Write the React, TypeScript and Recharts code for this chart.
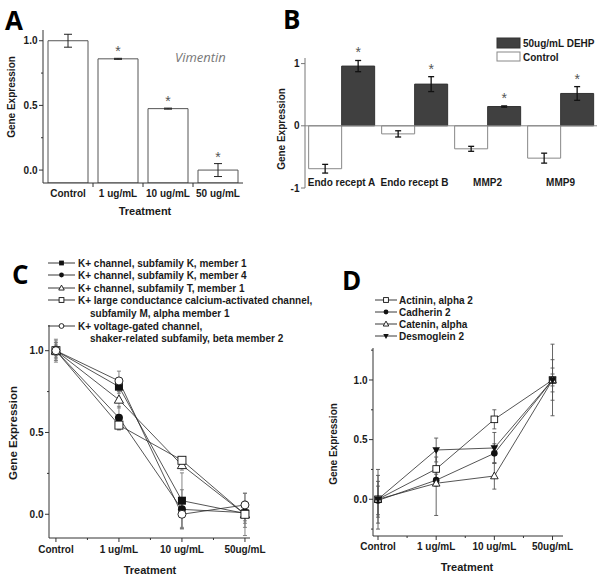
import React from "react";
import {
  ComposedChart,
  LineChart,
  Bar,
  Line,
  XAxis,
  YAxis,
  ErrorBar,
  LabelList,
  ReferenceLine,
} from "recharts";

const W = 602;
const H = 579;
const FONT = "'Liberation Sans', Arial, sans-serif";
const INK = "#1a1a1a";
const AXIS = "#333";

// A: vimentin
const vimCategories = ["Control", "1 ug/mL", "10 ug/mL", "50 ug/mL"];
const vimValues = [1.0, 0.86, 0.475, 0.0];
const vimErrors = [0.05, 0.004, 0.004, 0.05];
const vimStars = [false, true, true, true];

// B: 50ug/mL DEHP vs control
const genes = ["Endo recept A", "Endo recept B", "MMP2", "MMP9"];
const controlValues = [-0.69, -0.13, -0.37, -0.52];
const controlErrors = [0.07, 0.05, 0.04, 0.08];
const dehpValues = [0.96, 0.67, 0.31, 0.52];
const dehpErrors = [0.09, 0.12, 0.01, 0.11];

// C and D share the treatment axis
const treatments = ["Control", "1 ug/mL", "10 ug/mL", "50ug/mL"];

// C: K+ channels
const kcnk1 = [1.0, 0.78, 0.083, 0.005];
const kcnk1Err = [0.05, 0.04, 0.17, 0.06];
const kcnk4 = [1.0, 0.59, 0.03, 0.01];
const kcnk4Err = [0.06, 0.07, 0.12, 0.05];
const kcnt1 = [1.0, 0.7, 0.3, 0.0];
const kcnt1Err = [0.04, 0.05, 0.03, 0.08];
const kcnma1 = [1.0, 0.545, 0.33, 0.0];
const kcnma1Err = [0.07, 0.03, 0.02, 0.13];
const kcnab2 = [1.0, 0.815, 0.0, 0.057];
const kcnab2Err = [0.03, 0.06, 0.08, 0.07];

// D: adhesion genes
const actinin = [0.0, 0.254, 0.67, 1.0];
const actininErr = [0.25, 0.1, 0.08, 0.17];
const cadherin = [-0.01, 0.16, 0.385, 1.0];
const cadherinErr = [0.12, 0.05, 0.08, 0.05];
const catenin = [0.0, 0.134, 0.195, 1.0];
const cateninErr = [0.2, 0.27, 0.11, 0.3];
const desmoglein = [0.0, 0.413, 0.43, 1.0];
const desmogleinErr = [0.15, 0.1, 0.13, 0.1];

type MarkerKind = "square" | "circle" | "triangle" | "osquare" | "ocircle" | "down";

const cSeries: { key: string; values: number[]; errs: number[]; marker: MarkerKind; label: string[] }[] = [
  { key: "kcnk1", values: kcnk1, errs: kcnk1Err, marker: "square", label: ["K+ channel, subfamily K, member 1"] },
  { key: "kcnk4", values: kcnk4, errs: kcnk4Err, marker: "circle", label: ["K+ channel, subfamily K, member 4"] },
  { key: "kcnt1", values: kcnt1, errs: kcnt1Err, marker: "triangle", label: ["K+ channel, subfamily T, member 1"] },
  {
    key: "kcnma1", values: kcnma1, errs: kcnma1Err, marker: "osquare",
    label: ["K+ large conductance calcium-activated channel,", "subfamily M, alpha member 1"],
  },
  {
    key: "kcnab2", values: kcnab2, errs: kcnab2Err, marker: "ocircle",
    label: ["K+ voltage-gated channel,", "shaker-related subfamily, beta member 2"],
  },
];

const dSeries: { key: string; values: number[]; errs: number[]; marker: MarkerKind; label: string[] }[] = [
  { key: "actinin", values: actinin, errs: actininErr, marker: "osquare", label: ["Actinin, alpha 2"] },
  { key: "cadherin", values: cadherin, errs: cadherinErr, marker: "circle", label: ["Cadherin 2"] },
  { key: "catenin", values: catenin, errs: cateninErr, marker: "triangle", label: ["Catenin, alpha"] },
  { key: "desmoglein", values: desmoglein, errs: desmogleinErr, marker: "down", label: ["Desmoglein 2"] },
];

// plot rectangles (page pixels) and domains
const A_PLOT = { x0: 43, y0: 30, x1: 243, y1: 183 };
const A_Y: [number, number] = [-0.1, 1.083];
const B_PLOT = { x0: 305, y0: 58, x1: 597, y1: 188 };
const B_Y: [number, number] = [-1, 1.09];
const C_PLOT = { x0: 49, y0: 325, x1: 250, y1: 538 };
const C_Y: [number, number] = [-0.145, 1.157];
const C_X: [number, number] = [-0.11, 3.08];
const D_PLOT = { x0: 373, y0: 348, x1: 563, y1: 536 };
const D_Y: [number, number] = [-0.308, 1.268];
const D_X: [number, number] = [-0.086, 3.18];

const YW = 30;
const XH = 20;
const marginFor = (p: { x0: number; y0: number; x1: number; y1: number }) => ({
  top: p.y0,
  left: p.x0 - YW,
  right: W - p.x1,
  bottom: H - p.y1 - XH,
});

const vimData = vimCategories.map((c, i) => ({
  cat: c,
  range: [A_Y[0], vimValues[i]],
  err: vimErrors[i],
}));

const bData = genes.map((g, i) => ({
  gene: g,
  control: controlValues[i],
  controlErr: controlErrors[i],
  dehp: dehpValues[i],
  dehpErr: dehpErrors[i],
}));

const buildRows = (series: typeof cSeries) =>
  treatments.map((t, i) => {
    const row: Record<string, number | string> = { x: i, name: t };
    series.forEach((s) => {
      row[s.key] = s.values[i];
      row[s.key + "Err"] = s.errs[i];
    });
    return row;
  });

const cData = buildRows(cSeries);
const dData = buildRows(dSeries);

function Marker({ kind, cx, cy, r }: { kind: MarkerKind; cx: number; cy: number; r: number }) {
  const sw = 0.9;
  switch (kind) {
    case "square":
      return <rect x={cx - r} y={cy - r} width={2 * r} height={2 * r} fill="#111" />;
    case "osquare":
      return <rect x={cx - r} y={cy - r} width={2 * r} height={2 * r} fill="#fff" stroke="#111" strokeWidth={sw} />;
    case "circle":
      return <circle cx={cx} cy={cy} r={r} fill="#111" />;
    case "ocircle":
      return <circle cx={cx} cy={cy} r={r} fill="#fff" stroke="#111" strokeWidth={sw} />;
    case "triangle":
      return (
        <polygon
          points={`${cx},${cy - r * 1.2} ${cx - r * 1.15},${cy + r * 0.85} ${cx + r * 1.15},${cy + r * 0.85}`}
          fill="#fff"
          stroke="#111"
          strokeWidth={sw}
        />
      );
    case "down":
      return (
        <polygon
          points={`${cx},${cy + r * 1.2} ${cx - r * 1.15},${cy - r * 0.85} ${cx + r * 1.15},${cy - r * 0.85}`}
          fill="#111"
        />
      );
  }
  return null;
}

const makeDot = (kind: MarkerKind, r: number) => (p: any) => {
  if (p.cx == null || p.cy == null) return <g key={p.index} />;
  return (
    <g key={`${kind}-${p.index}`}>
      <Marker kind={kind} cx={p.cx} cy={p.cy} r={r} />
    </g>
  );
};

// axis ticks drawn by hand so minor ticks get no labels
const leftTick = (fmt: (v: number) => string | null, color: string, size = 10) => (p: any) => {
  const { x, y, payload } = p;
  const label = fmt(payload.value);
  const len = label == null ? 2 : 4;
  return (
    <g>
      <line x1={x} x2={x - len} y1={y} y2={y} stroke={color} />
      {label != null && (
        <text x={x - len - 1.5} y={y} dy="0.36em" textAnchor="end" fontFamily={FONT} fontWeight="bold" fontSize={size} fill={INK}>
          {label}
        </text>
      )}
    </g>
  );
};

const bottomTick = (fmt: (v: number) => string | null, textDy: number) => (p: any) => {
  const { x, y, payload } = p;
  const label = fmt(payload.value);
  const len = label == null ? 2 : 4;
  return (
    <g>
      <line x1={x} x2={x} y1={y} y2={y + len} stroke={AXIS} />
      {label != null && (
        <text x={x} y={y + textDy} textAnchor="middle" fontFamily={FONT} fontWeight="bold" fontSize={10} fill={INK}>
          {label}
        </text>
      )}
    </g>
  );
};

const halfBandA = (A_PLOT.x1 - A_PLOT.x0) / vimCategories.length / 2;
const aCatTick = (p: any) => {
  const { x, y, payload, index } = p;
  return (
    <g>
      {index < vimCategories.length - 1 && (
        <line x1={x + halfBandA} x2={x + halfBandA} y1={y} y2={y + 4} stroke={AXIS} />
      )}
      <text x={x} y={y + 14} textAnchor="middle" fontFamily={FONT} fontWeight="bold" fontSize={10} fill={INK}>
        {payload.value}
      </text>
    </g>
  );
};

const bCatTick = (p: any) => {
  const { x, y, payload } = p;
  return (
    <text x={x} y={y - 2} textAnchor="middle" fontFamily={FONT} fontWeight="bold" fontSize={10} fill={INK}>
      {payload.value}
    </text>
  );
};

const star = (x: number, y: number) => (
  <text x={x} y={y} textAnchor="middle" fontFamily={FONT} fontSize={14} fill="#555">
    *
  </text>
);

const starA = (p: any) => {
  const vb = p.viewBox ?? p;
  const i = p.index;
  if (i == null || !vimStars[i]) return null;
  const k = vb.height / (vimValues[i] - A_Y[0]);
  const top = vb.y - vimErrors[i] * k;
  return star(vb.x + vb.width / 2, top - 2);
};

const starB = (p: any) => {
  const vb = p.viewBox ?? p;
  const i = p.index;
  if (i == null) return null;
  const k = vb.height / dehpValues[i];
  const top = vb.y - dehpErrors[i] * k;
  return star(vb.x + vb.width / 2, top - 3);
};

const fmt1 = (v: number) => (Math.abs(v * 2 - Math.round(v * 2)) < 1e-6 ? v.toFixed(1) : null);
const fmtB = (v: number) => String(v);
const fmtTreat = (v: number) => (Number.isInteger(v) ? treatments[v] : null);

const abs: React.CSSProperties = { position: "absolute", left: 0, top: 0 };

function LegendRows({
  series,
  x0,
  x1,
  textX,
  contX,
  rows,
}: {
  series: typeof cSeries;
  x0: number;
  x1: number;
  textX: number;
  contX: number;
  rows: number[];
}) {
  let r = 0;
  const out: React.ReactNode[] = [];
  series.forEach((s) => {
    const y = rows[r];
    out.push(
      <g key={s.key}>
        <line x1={x0} x2={x1} y1={y} y2={y} stroke="#222" strokeWidth={0.9} />
        <Marker kind={s.marker} cx={(x0 + x1) / 2} cy={y} r={2.4} />
      </g>
    );
    s.label.forEach((t, j) => {
      out.push(
        <text
          key={s.key + j}
          x={j === 0 ? textX : contX}
          y={rows[r]}
          dy="0.36em"
          fontFamily={FONT}
          fontWeight="bold"
          fontSize={10}
          fill={INK}
        >
          {t}
        </text>
      );
      r++;
    });
  });
  return <g>{out}</g>;
}

export default function App() {
  const letter = { fontFamily: "'Open Sans', sans-serif", fontWeight: 700, fontSize: 26, fill: "#000" } as const;
  const title = { fontFamily: FONT, fontWeight: 700, fill: INK } as const;
  return (
    <div style={{ position: "absolute", left: 0, top: 0, width: W, height: H, background: "#fff" }}>
      {/* A */}
      <div style={abs}>
        <ComposedChart width={W} height={H} data={vimData} margin={marginFor(A_PLOT)} barCategoryGap="10%">
          <XAxis
            dataKey="cat"
            height={XH}
            axisLine={{ stroke: AXIS }}
            tickLine={false}
            tickSize={0}
            tickMargin={0}
            interval={0}
            tick={aCatTick}
          />
          <YAxis
            type="number"
            width={YW}
            domain={A_Y}
            allowDataOverflow
            ticks={[0, 0.25, 0.5, 0.75, 1]}
            interval={0}
            axisLine={{ stroke: AXIS }}
            tickLine={false}
            tickSize={0}
            tickMargin={0}
            tick={leftTick(fmt1, AXIS)}
          />
          <Bar dataKey="range" fill="#fff" stroke="#555" strokeWidth={1} isAnimationActive={false}>
            <ErrorBar dataKey="err" width={4} stroke="#222" strokeWidth={1} />
            <LabelList dataKey="err" content={starA} />
          </Bar>
        </ComposedChart>
      </div>

      {/* B */}
      <div style={abs}>
        <ComposedChart width={W} height={H} data={bData} margin={marginFor(B_PLOT)} barCategoryGap="5%" barGap={0}>
          <XAxis
            dataKey="gene"
            height={XH}
            axisLine={false}
            tickLine={false}
            tickSize={0}
            tickMargin={0}
            interval={0}
            tick={bCatTick}
          />
          <YAxis
            type="number"
            width={YW}
            domain={B_Y}
            allowDataOverflow
            ticks={[-1, 0, 1]}
            interval={0}
            axisLine={{ stroke: "#777" }}
            tickLine={false}
            tickSize={0}
            tickMargin={0}
            tick={leftTick(fmtB, "#777")}
          />
          <ReferenceLine y={0} stroke="#888" strokeWidth={1} />
          <Bar dataKey="control" fill="#fff" stroke="#888" strokeWidth={1} isAnimationActive={false}>
            <ErrorBar dataKey="controlErr" width={3} stroke="#111" strokeWidth={1.3} />
          </Bar>
          <Bar dataKey="dehp" fill="#404040" stroke="#333" strokeWidth={1} isAnimationActive={false}>
            <ErrorBar dataKey="dehpErr" width={3} stroke="#111" strokeWidth={1.3} />
            <LabelList dataKey="dehp" content={starB} />
          </Bar>
        </ComposedChart>
      </div>

      {/* C */}
      <div style={abs}>
        <LineChart width={W} height={H} data={cData} margin={marginFor(C_PLOT)}>
          <XAxis
            type="number"
            dataKey="x"
            height={XH}
            domain={C_X}
            allowDataOverflow
            ticks={[0, 0.5, 1, 1.5, 2, 2.5, 3]}
            interval={0}
            axisLine={{ stroke: AXIS }}
            tickLine={false}
            tickSize={0}
            tickMargin={0}
            tick={bottomTick(fmtTreat, 15)}
          />
          <YAxis
            type="number"
            width={YW}
            domain={C_Y}
            allowDataOverflow
            ticks={[0, 0.25, 0.5, 0.75, 1]}
            interval={0}
            axisLine={{ stroke: AXIS }}
            tickLine={false}
            tickSize={0}
            tickMargin={0}
            tick={leftTick(fmt1, AXIS)}
          />
          {cSeries.map((s) => (
            <Line
              key={s.key}
              type="linear"
              dataKey={s.key}
              stroke="#2a2a2a"
              strokeWidth={0.8}
              dot={makeDot(s.marker, 4)}
              activeDot={false}
              isAnimationActive={false}
            >
              <ErrorBar dataKey={s.key + "Err"} direction="y" width={2} stroke="#777" strokeWidth={0.9} />
            </Line>
          ))}
        </LineChart>
      </div>

      {/* D */}
      <div style={abs}>
        <LineChart width={W} height={H} data={dData} margin={marginFor(D_PLOT)}>
          <XAxis
            type="number"
            dataKey="x"
            height={XH}
            domain={D_X}
            allowDataOverflow
            ticks={[0, 0.5, 1, 1.5, 2, 2.5, 3]}
            interval={0}
            axisLine={{ stroke: AXIS }}
            tickLine={false}
            tickSize={0}
            tickMargin={0}
            tick={bottomTick(fmtTreat, 14)}
          />
          <YAxis
            type="number"
            width={YW}
            domain={D_Y}
            allowDataOverflow
            ticks={[-0.25, 0, 0.25, 0.5, 0.75, 1, 1.25]}
            interval={0}
            axisLine={{ stroke: AXIS }}
            tickLine={false}
            tickSize={0}
            tickMargin={0}
            tick={leftTick(fmt1, AXIS)}
          />
          {dSeries.map((s) => (
            <Line
              key={s.key}
              type="linear"
              dataKey={s.key}
              stroke="#2a2a2a"
              strokeWidth={0.8}
              dot={makeDot(s.marker, 3.3)}
              activeDot={false}
              isAnimationActive={false}
            >
              <ErrorBar dataKey={s.key + "Err"} direction="y" width={2} stroke="#555" strokeWidth={0.9} />
            </Line>
          ))}
        </LineChart>
      </div>

      {/* labels, legends */}
      <svg width={W} height={H} style={{ ...abs, pointerEvents: "none" }}>
        <text x={5} y={30} {...letter}>A</text>
        <text x={283} y={29} {...letter}>B</text>
        <text x={12} y={284} {...letter}>C</text>
        <text x={342} y={290} {...letter}>D</text>

        <text x={175} y={62} fontFamily="'Open Sans', sans-serif" fontStyle="italic" fontSize={13} fill="#777">
          Vimentin
        </text>

        <text {...title} fontSize={10} transform="translate(15,97) rotate(-90)" textAnchor="middle">Gene Expression</text>
        <text {...title} fontSize={11} x={145} y={215} textAnchor="middle">Treatment</text>

        <text {...title} fontSize={10} transform="translate(285,129) rotate(-90)" textAnchor="middle">Gene Expression</text>

        <text {...title} fontSize={11.5} transform="translate(17,433) rotate(-90)" textAnchor="middle">Gene Expression</text>
        <text {...title} fontSize={11} x={150} y={574} textAnchor="middle">Treatment</text>

        <text {...title} fontSize={10} transform="translate(337,444) rotate(-90)" textAnchor="middle">Gene Expression</text>
        <text {...title} fontSize={11} x={467} y={571} textAnchor="middle">Treatment</text>

        {/* B legend */}
        <rect x={497} y={38} width={23} height={10} fill="#404040" stroke="#333" />
        <text x={523} y={43} dy="0.36em" {...title} fontSize={10}>50ug/mL DEHP</text>
        <rect x={497} y={52} width={23} height={9} fill="#fff" stroke="#888" />
        <text x={523} y={57} dy="0.36em" {...title} fontSize={10}>Control</text>

        <LegendRows series={cSeries} x0={48} x1={75} textX={78} contX={90} rows={[263, 275, 288, 300, 313, 326, 338]} />
        <LegendRows series={dSeries} x0={375} x1={397} textX={399} contX={399} rows={[300, 312, 324, 336]} />
      </svg>
    </div>
  );
}
